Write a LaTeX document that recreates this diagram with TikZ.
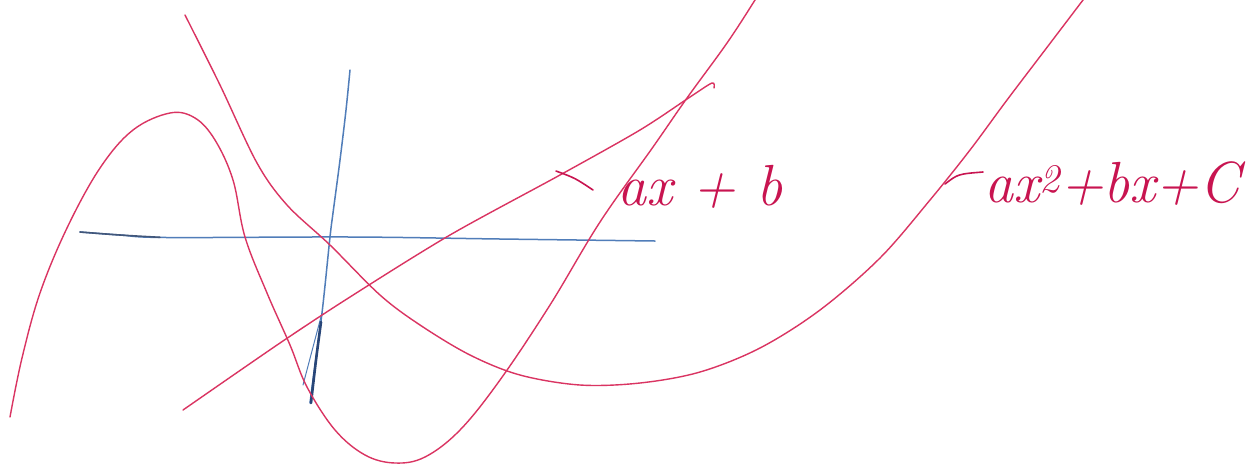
\documentclass[tikz,border=0pt]{standalone}
\definecolor{pen}{RGB}{218,52,98}
\definecolor{ink}{RGB}{200,20,80}
\definecolor{axis}{RGB}{80,125,185}
\definecolor{axisdark}{RGB}{40,70,120}
\tikzset{
  curve/.style={draw=pen, line width=1.4pt, line cap=round, line join=round},
  axisline/.style={draw=axis, line width=1.5pt, line cap=round},
  lbl/.style={text=ink, inner sep=0pt, font=\fontsize{58}{58}\selectfont\itshape},
  tick/.style={draw=ink, line width=1.6pt, line cap=round}
}
\begin{document}
\begin{tikzpicture}[x=1pt,y=-1pt]
\clip (0,0) rectangle (1255,467);
\fill[white] (0,0) rectangle (1255,467);
% axes
\draw[axisline] plot[smooth, tension=0.6] coordinates {(80,232) (120,235) (167,237.5) (350,237) (500,239) (655,241)};
\draw[draw=axisdark!70!gray, line width=1.6pt, line cap=round] plot[smooth, tension=0.6] coordinates {(80,232) (120,235) (160,237.3)};
\draw[axisline] plot[smooth, tension=0.6] coordinates {(350,70) (346,110) (340,160) (333,213) (330,237) (322,313) (313,380) (310,403)};
\draw[axisline, line width=1pt] (322,313) -- (303,385);
\draw[draw=axisdark, line width=2.6pt, line cap=round] plot[smooth] coordinates {(321,322) (316,360) (311,403)};
% parabola
\draw[curve] plot[smooth, tension=0.55] coordinates {(185,15) (220,85) (257,163) (287,205) (330,245) (380,295) (420,325) (470,355) (520,375) (580,385) (640,383) (700,372) (760,348) (820,310) (880,258) (930,200) (970,150) (1007,100) (1045,50) (1083,0) (1092,-12)};
% cubic
\draw[curve] plot[smooth, tension=0.6] coordinates {(10,417) (22,358) (40,293) (67,228) (100,168) (133,130) (170,113) (195,118) (215,140) (233,180) (245,237) (267,293) (290,345) (307,387) (335,430) (365,455) (395,463) (425,457) (460,430) (500,380) (550,305) (600,222) (653,147) (687,98) (727,43) (755,0) (762,-12)};
% line
\draw[curve] plot[smooth, tension=0.5] coordinates {(183,410) (280,343) (350,297) (450,235) (560,175) (640,130) (690,97) (712,83) (714,88)};
% labels
\coordinate (t1a) at (556,171);
\coordinate (t1b) at (593,190);
\coordinate (t2a) at (945,184);
\coordinate (t2b) at (983,172);
\node[lbl, anchor=base west] (l1) at (617,205) {ax + b};
\node[lbl, anchor=base west] (l2) at (984,202) {ax\textsuperscript{2}+bx+C};
\draw[tick] (t1a) .. controls (575,178) .. (t1b);
\draw[tick] (t2a) .. controls (958,174) .. (t2b);
\end{tikzpicture}
\end{document}
